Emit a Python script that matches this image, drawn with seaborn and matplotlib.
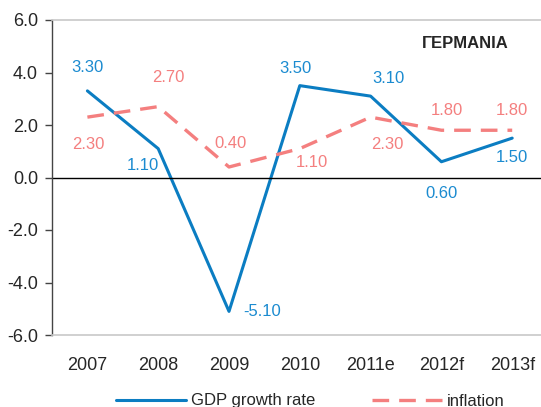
import pandas as pd
import matplotlib.pyplot as plt
import seaborn as sns

# data
years = ["2007", "2008", "2009", "2010", "2011e", "2012f", "2013f"]
gdp_growth = [3.30, 1.10, -5.10, 3.50, 3.10, 0.60, 1.50]
inflation = [2.30, 2.70, 0.40, 1.10, 2.30, 1.80, 1.80]
y_ticks = [-6.0, -4.0, -2.0, 0.0, 2.0, 4.0, 6.0]

# label offsets in points (style only)
gdp_offsets = [(0, 17), (-11, -12), (10, 0), (-3, 12), (13, 13), (0, -23), (0, -14)]
gdp_align = ["center", "center", "left", "center", "center", "center", "center"]
infl_offsets = [(1, -20), (7, 21), (1, 17), (9, -10), (12, -20), (4, 14), (0, 14)]

blue = "#0b7dc2"
blue_txt = "#1b8bd0"
pink = "#f47f7f"

sns.set_style("white")
plt.rcParams["font.family"] = ["Liberation Sans", "DejaVu Sans"]

df = pd.DataFrame({"year": years, "gdp": gdp_growth, "infl": inflation})

fig = plt.figure(figsize=(5.41, 4.07), dpi=100)
ax = fig.add_axes([52 / 541, 1 - 335 / 407, 495.6 / 541, 315 / 407])

sns.lineplot(data=df, x="year", y="gdp", ax=ax, color=blue, lw=2.2,
             sort=False, label="GDP growth rate")
sns.lineplot(data=df, x="year", y="infl", ax=ax, color=pink, lw=2.4,
             sort=False, dashes=False, label="inflation")
ax.lines[1].set_dashes((5, 3))

for i, v in enumerate(gdp_growth):
    ax.annotate(f"{v:.2f}", (i, v), xytext=gdp_offsets[i], textcoords="offset points",
                ha=gdp_align[i], va="center", color=blue_txt, fontsize=12)
for i, v in enumerate(inflation):
    ax.annotate(f"{v:.2f}", (i, v), xytext=infl_offsets[i], textcoords="offset points",
                ha="center", va="center", color=pink, fontsize=12)

ax.axhline(0, color="black", lw=1)
ax.set_xlim(-0.5, len(years) - 0.5)
ax.set_ylim(-6, 6)
ax.set_yticks(y_ticks)
ax.set_yticklabels([f"{t:.1f}" for t in y_ticks])
ax.set_xlabel("")
ax.set_ylabel("")
ax.tick_params(axis="y", left=True, length=5, width=1, color="#444444",
               pad=5, labelsize=13)
ax.tick_params(axis="x", bottom=False, pad=12, labelsize=13)

for s in ["top", "bottom"]:
    ax.spines[s].set_color("#c8c8c8")
    ax.spines[s].set_linewidth(1.2)
ax.spines["right"].set_visible(False)
ax.spines["left"].set_color("#444444")
ax.spines["left"].set_linewidth(1)

fig.text(465 / 541, 1 - 43 / 407, "ΓΕΡΜΑΝΙΑ", ha="center", va="center",
         fontsize=12, fontweight="bold")

ax.get_legend().remove()
handles, labels = ax.get_legend_handles_labels()
handles[1].set_dashes((5, 3))
fig.legend(handles, labels, loc="center", bbox_to_anchor=(0.573, 1 - 401 / 407),
           ncol=2, frameon=False, fontsize=12, handlelength=4.2,
           columnspacing=3.4, handletextpad=0.3)

fig.savefig("out.png", dpi=100)
